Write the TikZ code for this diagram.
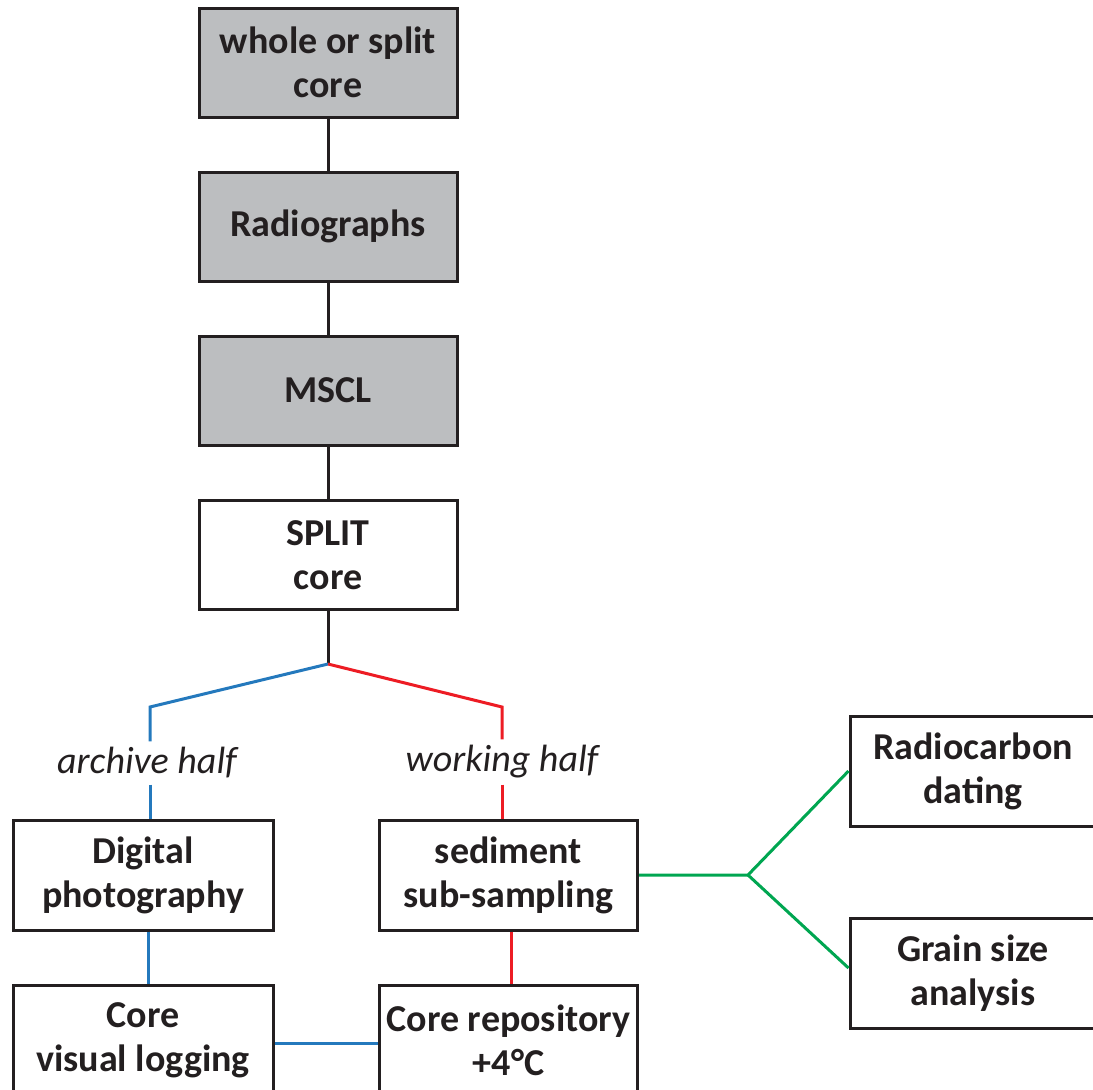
\documentclass[tikz,border=0pt]{standalone}
\usepackage{fontspec}
\setmainfont{Carlito}
\usetikzlibrary{positioning,calc}
\definecolor{boxgray}{HTML}{BCBEC0}
\definecolor{ink}{HTML}{231F20}
\definecolor{archblue}{HTML}{2479BD}
\definecolor{workred}{HTML}{ED1C24}
\definecolor{subgreen}{HTML}{00A651}

\begin{document}
\begin{tikzpicture}[x=1pt,y=-1pt,
    box/.style={rectangle,draw=ink,line width=3pt,minimum width=258pt,minimum height=109pt,
      align=center,text=ink,font=\bfseries\fontsize{38}{44}\selectfont},
    greybox/.style={box,fill=boxgray},
    half/.style={text=ink,inner sep=6pt,font=\itshape\fontsize{38}{44}\selectfont},
    link/.style={draw=ink,line width=3pt},
    wire/.style={line width=3pt}]
  \useasboundingbox (0,0) rectangle (1093,1090);
  % core line (grey = whole core)
  \node[greybox] (whole) at (328,62.5) {whole or split\\core};
  \node[greybox] (radio) at (328,226.5) {Radiographs};
  \node[greybox] (mscl) at (328,390.5) {MSCL};
  \node[box] (split) at (328,555) {SPLIT\\core};
  \coordinate (fork) at (328,664);
  % the two halves
  \coordinate (abend) at (150,707);
  \coordinate (wbend) at (502,707);
  \node[half] (archive) at (147,763) {archive half};
  \node[half] (working) at (502,762) {working half};
  \node[box,minimum width=260pt,minimum height=110pt] (photo) at (143,875) {Digital\\photography};
  \node[box,minimum height=110pt] (sub) at (508.5,875) {sediment\\sub-sampling};
  \node[box,minimum width=260pt,minimum height=110pt] (logging) at (143,1040) {Core\\visual logging};
  \node[box,minimum height=110pt] (repo) at (508.5,1040) {Core repository\\+4°C};
  % analyses on the working half
  \coordinate (gfork) at (748,875);
  \node[box,minimum width=246pt,minimum height=110pt] (carbon) at (973,771) {Radiocarbon\\dating};
  \node[box,minimum width=246pt,minimum height=110pt] (grain) at (973,973) {Grain size\\analysis};

  \path[link] (whole) edge (radio) (radio) edge (mscl) (mscl) edge (split);
  \draw[link] (split) -- (fork);
  \draw[archblue,wire] (fork) -- (abend) -- (abend |- archive.north);
  \draw[archblue,wire] (abend |- archive.south) -- (abend |- photo.north);
  \draw[archblue,wire] ([xshift=5pt]photo.south) -- ([xshift=5pt]logging.north);
  \draw[archblue,wire] ([yshift=-3pt]logging.east) -- ([yshift=-3pt]repo.west);
  \draw[workred,wire] (fork) -- (wbend) -- (working.north);
  \draw[workred,wire] (working.south) -- (working |- sub.north);
  \draw[workred,wire] ([xshift=3pt]sub.south) -- ([xshift=3pt]repo.north);
  \draw[subgreen,wire] (sub) -- (gfork) -- (carbon.west);
  \draw[subgreen,wire] (gfork) -- ([yshift=5pt]grain.west);
\end{tikzpicture}
\end{document}
